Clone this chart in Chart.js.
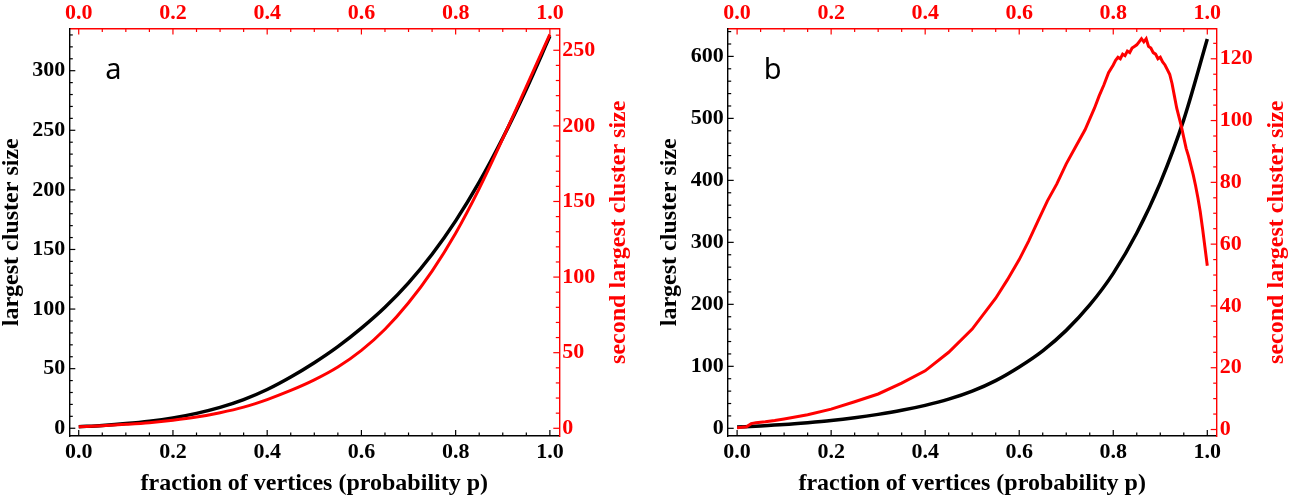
<!DOCTYPE html>
<html lang="en">
<head>
  <meta charset="UTF-8">
  <title>Largest and second largest cluster size</title>
  <script src="https://cdn.jsdelivr.net/npm/chart.js"></script>
  <style>
    body { margin: 0; background: white; }
    #wrap { position: relative; width: 1296px; height: 502px; }
    canvas { position: absolute; top: 0; }
    #panelA { left: 0; }
    #panelB { left: 648px; }
  </style>
</head>
<body>
  <div id="wrap">
    <canvas id="panelA" width="648" height="502"></canvas>
    <canvas id="panelB" width="648" height="502"></canvas>
  </div>

  <script>
    // shared x ticks (fraction of vertices p)
    const pTicks = [0, 0.2, 0.4, 0.6, 0.8, 1.0];

    // panel a
    const pA = [0, 0.05, 0.1, 0.15, 0.2, 0.25, 0.3, 0.35, 0.4, 0.45, 0.5,
                0.55, 0.6, 0.65, 0.7, 0.75, 0.8, 0.85, 0.9, 0.95, 1.0];
    const largestA = [1.3, 2.4, 3.9, 5.9, 8.7, 12.5, 17.5, 24, 32.5, 43, 55,
                      68.5, 84, 101.5, 122, 146, 174, 206.5, 243.5, 284.5, 329];
    const secondA = [1, 1.7, 2.6, 3.7, 5.3, 7.4, 10.3, 14, 19, 25, 32,
                     40.5, 51.5, 65.5, 83, 104, 129, 158.5, 191.5, 226, 260.5];
    const leftTicksA = [0, 50, 100, 150, 200, 250, 300];
    const rightTicksA = [0, 50, 100, 150, 200, 250];

    // panel b
    const pB = [0, 0.05, 0.1, 0.15, 0.2, 0.25, 0.3, 0.35, 0.4, 0.45, 0.5,
                0.55, 0.6, 0.65, 0.7, 0.75, 0.8, 0.85, 0.9, 0.95, 1.0];
    const largestB = [2, 3.8, 6, 9, 12.5, 17, 22.5, 29, 37, 47, 60,
                      77, 99, 125, 158, 199, 250, 315, 396, 498, 628];
    const pB2 = [0, 0.01, 0.02, 0.03, 0.04, 0.06, 0.08, 0.1, 0.15, 0.2, 0.25, 0.3,
                 0.35, 0.4, 0.45, 0.5, 0.55, 0.575, 0.6, 0.62, 0.64, 0.66, 0.68, 0.7, 0.72,
                 0.74, 0.76, 0.77, 0.78, 0.79,
                 0.8, 0.805, 0.81, 0.815, 0.82, 0.825, 0.83, 0.835, 0.84, 0.845,
                 0.85, 0.855, 0.86, 0.865, 0.87, 0.875, 0.88, 0.885, 0.89, 0.895,
                 0.9, 0.905, 0.91, 0.915, 0.92, 0.925, 0.93, 0.935, 0.94, 0.945,
                 0.95, 0.955, 0.96, 0.965, 0.97, 0.975, 0.98, 0.985, 0.99, 0.995, 1.0];
    const secondB = [0.6, 0.7, 0.9, 1.9, 2.2, 2.5, 2.9, 3.4, 4.8, 6.6, 9, 11.5,
                     15, 19, 25, 32.5, 42.5, 48.5, 55, 61, 67.5, 74, 79.5, 86, 91.5,
                     97, 104, 108, 111.5, 115.5,
                     118, 119.5, 120.5, 120, 121.5, 121, 122.5, 122, 123.5, 124,
                     124.5, 125.5, 126.5, 125.5, 126.5, 124, 123.5, 122, 121.5, 120,
                     120.5, 119, 118, 116.5, 115, 112, 108, 104, 101, 98,
                     94.5, 91, 88.5, 85.5, 82.5, 79, 75, 70.5, 65, 59, 53];
    const leftTicksB = [0, 100, 200, 300, 400, 500, 600];
    const rightTicksB = [0, 20, 40, 60, 80, 100, 120];

    const SERIF = '"Liberation Serif", "Times New Roman", serif';

    // inward frame ticks, axis titles and panel letter
    const frameDecor = {
      id: 'frameDecor',
      afterDatasetsDraw(chart, args, o) {
        const { ctx, chartArea: ca, scales } = chart;
        ctx.save();
        ctx.lineWidth = 1.2;
        for (const t of o.ticks) {
          const s = scales[t.axis];
          ctx.strokeStyle = t.color;
          for (let i = 0; i * t.minor <= t.max + 1e-9; i++) {
            const v = i * t.minor;
            const r = v / t.major;
            const len = Math.abs(r - Math.round(r)) < 1e-6 ? 6 : 3.5;
            const px = s.getPixelForValue(v);
            ctx.beginPath();
            if (t.axis === 'x') { ctx.moveTo(px, ca.bottom); ctx.lineTo(px, ca.bottom - len); }
            else if (t.axis === 'x2') { ctx.moveTo(px, ca.top); ctx.lineTo(px, ca.top + len); }
            else if (t.axis === 'y') { ctx.moveTo(ca.left, px); ctx.lineTo(ca.left + len, px); }
            else { ctx.moveTo(ca.right, px); ctx.lineTo(ca.right - len, px); }
            ctx.stroke();
          }
        }

        const midY = (ca.top + ca.bottom) / 2;
        ctx.font = 'bold 24px ' + SERIF;
        ctx.textAlign = 'center';
        ctx.textBaseline = 'middle';
        ctx.fillStyle = 'black';
        ctx.fillText(o.xTitle, (ca.left + ca.right) / 2, 484);
        ctx.save();
        ctx.translate(ca.left - 57.5, midY);
        ctx.rotate(-Math.PI / 2);
        ctx.fillText(o.yTitle, 0, 0);
        ctx.restore();
        ctx.fillStyle = '#ff0000';
        ctx.save();
        ctx.translate(ca.right + 59.7, midY);
        ctx.rotate(-Math.PI / 2);
        ctx.fillText(o.y2Title, 0, 0);
        ctx.restore();

        ctx.fillStyle = 'black';
        ctx.font = '29px "Noto Sans", sans-serif';
        ctx.textAlign = 'left';
        ctx.textBaseline = 'alphabetic';
        ctx.fillText(o.letter, ca.left + 36, 79);
        ctx.restore();
      }
    };

    function axis(position, min, max, ticks, color, size, pad, fmt) {
      const horiz = position === 'top' || position === 'bottom';
      return {
        type: 'linear',
        position,
        min,
        max,
        grid: { display: false, drawTicks: false },
        border: { display: true, color, width: 1.4 },
        ticks: {
          color,
          padding: pad,
          autoSkip: false,
          maxRotation: 0,
          font: { family: SERIF, weight: 'bold', size: 22 },
          callback: fmt
        },
        afterBuildTicks: s => { s.ticks = ticks.map(v => ({ value: v })); },
        afterFit: s => {
          if (horiz) { s.height = size; s.paddingLeft = 0; s.paddingRight = 0; }
          else { s.width = size; s.paddingTop = 0; s.paddingBottom = 0; }
        }
      };
    }

    const fmtP = v => v.toFixed(1);
    const fmtN = v => String(v);

    function makePanel(id, d) {
      new Chart(document.getElementById(id), {
        type: 'line',
        data: {
          datasets: [
            {
              label: 'second largest cluster size',
              data: d.px2.map((p, i) => ({ x: p, y: d.second[i] })),
              xAxisID: 'x',
              yAxisID: 'y2',
              borderColor: '#ff0000',
              borderWidth: 3,
              pointRadius: 0,
              cubicInterpolationMode: d.smoothRed ? 'monotone' : 'default',
              tension: 0,
              order: 0
            },
            {
              label: 'largest cluster size',
              data: d.px.map((p, i) => ({ x: p, y: d.largest[i] })),
              xAxisID: 'x',
              yAxisID: 'y',
              borderColor: '#000000',
              borderWidth: 3.5,
              pointRadius: 0,
              cubicInterpolationMode: 'monotone',
              order: 1
            }
          ]
        },
        options: {
          responsive: false,
          animation: false,
          layout: { padding: 0 },
          plugins: {
            legend: { display: false },
            tooltip: { enabled: false },
            frameDecor: {
              letter: d.letter,
              xTitle: 'fraction of vertices (probability p)',
              yTitle: 'largest cluster size',
              y2Title: 'second largest cluster size',
              ticks: [
                { axis: 'x', color: 'black', major: 0.2, minor: 0.05, max: 1 },
                { axis: 'x2', color: '#ff0000', major: 0.2, minor: 0.05, max: 1 },
                { axis: 'y', color: 'black', major: d.yMajor, minor: d.yMinor, max: d.yRange[1] },
                { axis: 'y2', color: '#ff0000', major: d.y2Major, minor: d.y2Minor, max: d.y2Range[1] }
              ]
            }
          },
          scales: {
            x: axis('bottom', -0.02, 1.02, pTicks, 'black', 66, 3.1, fmtP),
            x2: axis('top', -0.02, 1.02, pTicks, '#ff0000', 28.5, 2, fmtP),
            y: axis('left', d.yRange[0], d.yRange[1], d.leftTicks, 'black', d.leftW, 4, fmtN),
            y2: axis('right', d.y2Range[0], d.y2Range[1], d.rightTicks, '#ff0000', d.rightW, 3, fmtN)
          }
        },
        plugins: [frameDecor]
      });
    }

    makePanel('panelA', {
      letter: 'a', smoothRed: true,
      px: pA, largest: largestA, px2: pA, second: secondA,
      leftTicks: leftTicksA, rightTicks: rightTicksA,
      yRange: [-6.5, 335.4], y2Range: [-5.1, 264.4],
      yMajor: 50, yMinor: 10, y2Major: 50, y2Minor: 10,
      leftW: 69.3, rightW: 88.7
    });

    makePanel('panelB', {
      letter: 'b', smoothRed: false,
      px: pB, largest: largestB, px2: pB2, second: secondB,
      leftTicks: leftTicksB, rightTicks: rightTicksB,
      yRange: [-12.4, 645], y2Range: [-2.1, 129.8],
      yMajor: 100, yMinor: 20, y2Major: 20, y2Minor: 5,
      leftW: 79.7, rightW: 79.3
    });
  </script>
</body>
</html>
